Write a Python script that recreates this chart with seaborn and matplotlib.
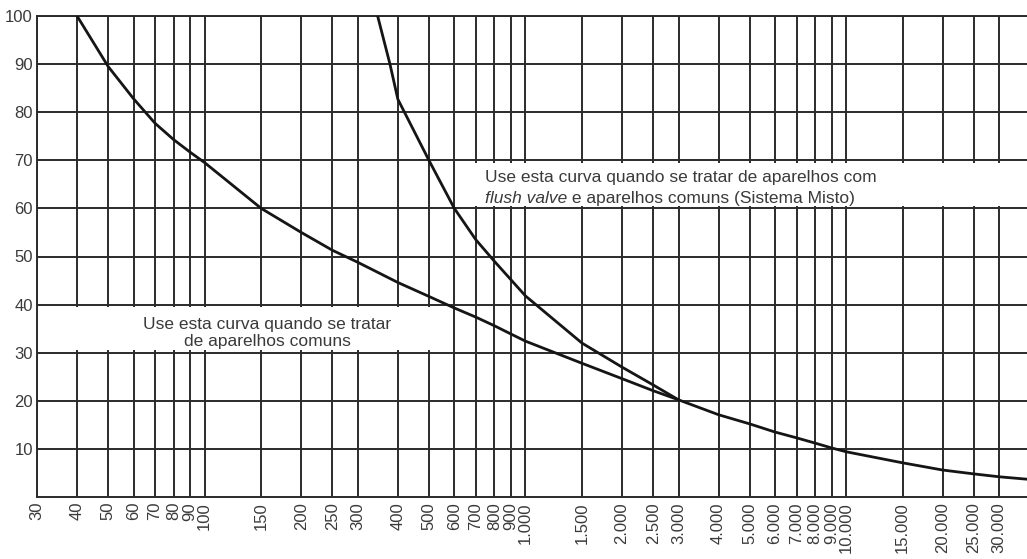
import matplotlib
matplotlib.use("Agg")
import matplotlib.pyplot as plt
import seaborn as sns
import pandas as pd
from matplotlib.patches import Rectangle
from matplotlib.ticker import FixedLocator, FixedFormatter, NullLocator

# ---------------- data ----------------
x_ticks = [30, 40, 50, 60, 70, 80, 90, 100, 150, 200, 250, 300, 400, 500, 600,
           700, 800, 900, 1000, 1500, 2000, 2500, 3000, 4000, 5000, 6000, 7000,
           8000, 9000, 10000, 15000, 20000, 25000, 30000]
x_tick_labels = ["30", "40", "50", "60", "70", "80", "90", "100", "150", "200",
                 "250", "300", "400", "500", "600", "700", "800", "900", "1.000",
                 "1.500", "2.000", "2.500", "3.000", "4.000", "5.000", "6.000",
                 "7.000", "8.000", "9.000", "10.000", "15.000", "20.000",
                 "25.000", "30.000"]
y_ticks = [10, 20, 30, 40, 50, 60, 70, 80, 90, 100]
y_tick_labels = ["10", "20", "30", "40", "50", "60", "70", "80", "90", "100"]

# curve: aparelhos comuns
comuns_x = [40, 50, 60, 70, 80, 90, 100, 150, 200, 250, 300, 400, 500, 600, 700,
            800, 900, 1000, 1500, 2000, 2500, 3000, 4000, 5000, 6000, 7000, 8000,
            9000, 10000, 15000, 20000, 25000, 30000, 36600]
comuns_y = [100, 89.5, 82.8, 77.7, 74.3, 71.7, 69.5, 60.0, 55.0, 51.3, 48.8,
            44.6, 41.7, 39.3, 37.4, 35.6, 33.9, 32.4, 27.8, 24.6, 22.1, 20.2,
            17.1, 15.2, 13.5, 12.3, 11.2, 10.2, 9.4, 7.1, 5.6, 4.8, 4.2, 3.7]

# curve: flush valve + aparelhos comuns (sistema misto)
misto_x = [346, 378, 400, 500, 600, 700, 800, 900, 1000, 1500, 2000, 2500, 3000]
misto_y = [100, 90, 82.7, 70.0, 60.0, 53.5, 49.0, 45.2, 41.8, 32.0, 27.0, 23.3, 20.2]

text_comuns = "Use esta curva quando se tratar\nde aparelhos comuns"
text_misto_1 = "Use esta curva quando se tratar de aparelhos com"
text_misto_2a = "flush valve"
text_misto_2b = " e aparelhos comuns (Sistema Misto)"

# ---------------- style ----------------
sns.set_theme(style="white")
plt.rcParams["font.family"] = ["Liberation Sans", "DejaVu Sans"]

W, H = 1027, 559
fig = plt.figure(figsize=(W / 100, H / 100), dpi=100)
fig.patch.set_facecolor("white")
ax = fig.add_axes([37 / W, 1 - 497 / H, 1 - 37 / W, (497 - 16) / H])
ax.set_facecolor("white")
ax.set_xscale("log")
ax.set_xlim(30, 36600)
ax.set_ylim(0, 100)

grid_col = "#2b2b2b"
ax.set_axisbelow(True)
ax.xaxis.set_major_locator(FixedLocator(x_ticks))
ax.xaxis.set_major_formatter(FixedFormatter(x_tick_labels))
ax.xaxis.set_minor_locator(NullLocator())
ax.yaxis.set_major_locator(FixedLocator(y_ticks))
ax.yaxis.set_major_formatter(FixedFormatter(y_tick_labels))
ax.grid(True, which="major", color=grid_col, linewidth=1.4)

ax.tick_params(axis="x", length=0, pad=3.6, labelsize=12, labelcolor="#3a3a3a",
               labelrotation=90)
ax.tick_params(axis="y", length=0, pad=3, labelsize=12, labelcolor="#3a3a3a")

for side in ["left", "bottom", "top"]:
    ax.spines[side].set_visible(True)
    ax.spines[side].set_color(grid_col)
    ax.spines[side].set_linewidth(1.4)
ax.spines["right"].set_visible(False)

# white label boxes that interrupt the grid
ax.add_patch(Rectangle((30, 30.6), 555 - 30, 8.8, facecolor="white",
                       edgecolor="none", zorder=1))
ax.add_patch(Rectangle((650, 60.6), 36600 - 650, 8.8, facecolor="white",
                       edgecolor="none", zorder=1))

# curves
df_c = pd.DataFrame({"x": comuns_x, "y": comuns_y})
df_m = pd.DataFrame({"x": misto_x, "y": misto_y})
sns.lineplot(data=df_c, x="x", y="y", ax=ax, color="#151515", linewidth=2.0,
             sort=False, estimator=None, zorder=3)
sns.lineplot(data=df_m, x="x", y="y", ax=ax, color="#151515", linewidth=2.0,
             sort=False, estimator=None, zorder=3)
ax.set_xlabel("")
ax.set_ylabel("")

txt_kw = dict(fontsize=12.5, color="#3a3a3a", zorder=4)
ax.text(157, 34.1, text_comuns, ha="center", va="center",
        multialignment="center", linespacing=1.2, **txt_kw)
ax.text(748, 66.4, text_misto_1, ha="left", va="center", **txt_kw)
t2 = ax.text(748, 62.0, text_misto_2a, ha="left", va="center",
             style="italic", **txt_kw)
ax.annotate(text_misto_2b, xy=(1, 0), xycoords=t2, ha="left", va="bottom",
            **txt_kw)

fig.savefig("out.png", dpi=100, facecolor="white")
